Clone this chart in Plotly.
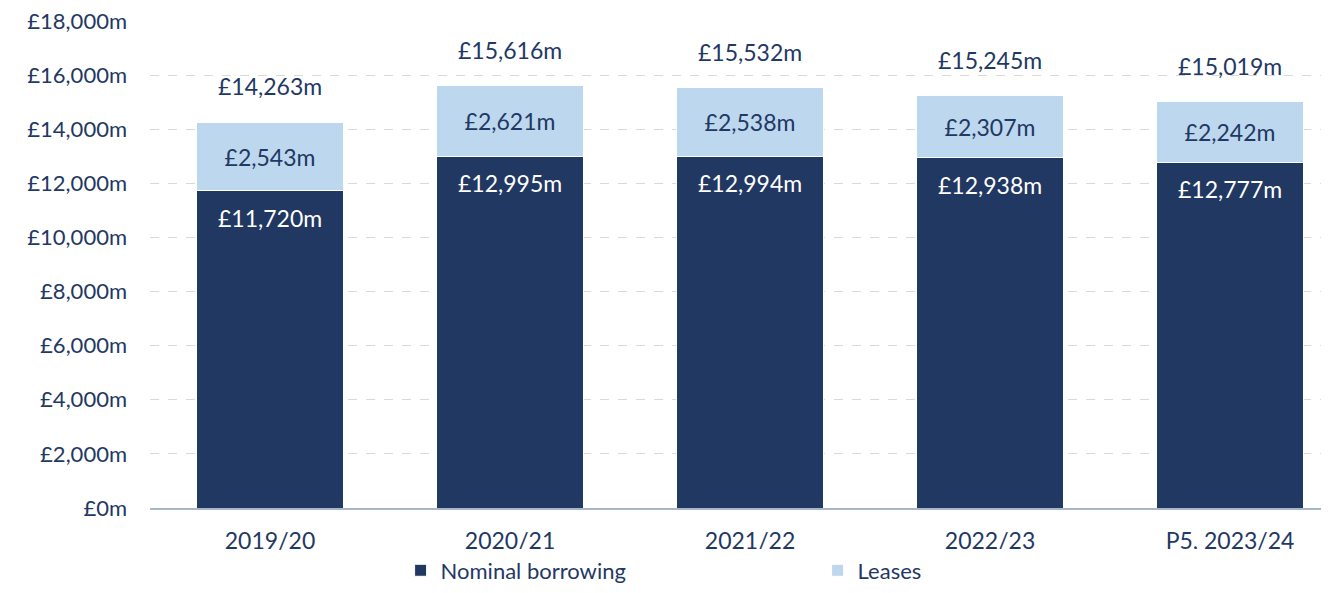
import plotly.graph_objects as go

years = ["2019/20", "2020/21", "2021/22", "2022/23", "P5, 2023/24"]
nominal = [11720, 12995, 12994, 12938, 12777]
leases = [2543, 2621, 2538, 2307, 2242]
totals = [14263, 15616, 15532, 15245, 15019]

navy = "#213862"
light = "#bdd7ee"
text_col = "#1f3864"
font_family = "Lato, 'Open Sans', sans-serif"


def fmt(v):
    return f"£{v:,}m"


fig = go.Figure()
fig.add_trace(go.Bar(
    x=years, y=nominal, name="Nominal borrowing",
    marker=dict(color=navy, line=dict(color="white", width=1)),
))
fig.add_trace(go.Bar(
    x=years, y=leases, name="Leases",
    marker=dict(color=light, line=dict(color="white", width=1)),
    text=[fmt(v) for v in leases], textposition="inside",
    insidetextanchor="middle", textangle=0,
    insidetextfont=dict(color=text_col, size=23, family=font_family),
))

for yr, n, t in zip(years, nominal, totals):
    fig.add_annotation(x=yr, y=n, text=fmt(n), showarrow=False,
                       yanchor="middle", yshift=-27,
                       font=dict(color="white", size=23, family=font_family))
    fig.add_annotation(x=yr, y=t, text=fmt(t), showarrow=False,
                       yanchor="bottom", yshift=20,
                       font=dict(color=text_col, size=23, family=font_family))

# page has an 8px body margin, so the figure is sized to fit inside it
fig.update_layout(
    barmode="stack",
    bargap=0.39,
    width=1313, height=577,
    margin=dict(l=142, r=0, t=13, b=77, autoexpand=False),
    plot_bgcolor="white", paper_bgcolor="white",
    font=dict(family=font_family, size=22, color=text_col),
    showlegend=True,
    legend=dict(orientation="h", x=0.214, xanchor="left", y=-0.0852, yanchor="top",
                entrywidth=372, entrywidthmode="pixels",
                font=dict(size=22, color=text_col), traceorder="normal"),
)
fig.update_xaxes(range=[-0.5, 4.379], showline=True, linecolor="#a9b6c9", linewidth=1.5,
                 ticks="", tickfont=dict(size=23, color=text_col), ticklabelstandoff=12,
                 automargin=False)
fig.update_yaxes(range=[0, 18000], dtick=2000, tickformat=",", tickprefix="£", ticksuffix="m",
                 showgrid=True, gridcolor="#d9d9d9", griddash="dash", gridwidth=1,
                 zeroline=False, tickfont=dict(size=22, color=text_col), ticklabelstandoff=22,
                 ticklabeloverflow="allow", automargin=False)

fig.write_html("out.html")
